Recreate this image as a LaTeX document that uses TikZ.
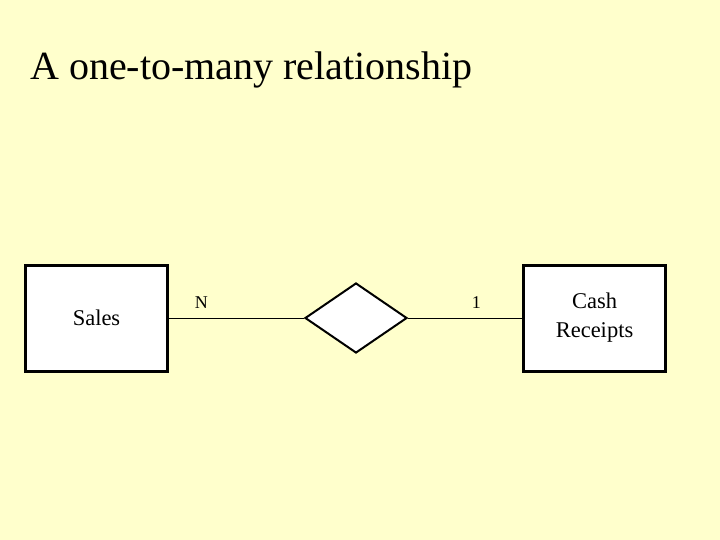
\documentclass[tikz,border=0pt]{standalone}
\usepackage{fontspec}
\setmainfont{Liberation Serif}
\usetikzlibrary{positioning,shapes.geometric}
\definecolor{slidebg}{RGB}{255,255,204}

\begin{document}
\begin{tikzpicture}[
        x=1pt,y=-1pt,
        entity/.style={
          draw,fill=white,line width=3pt,
          text centered,
          align=center,
          minimum width=142pt,
          minimum height=106pt,
          font=\fontsize{22.5}{29}\selectfont
        },
        relship/.style={
          draw,fill=white,line width=2pt,
          diamond,inner sep=0pt,
          minimum width=102pt,
          minimum height=70pt
        },
        card/.style={font=\fontsize{18}{21}\selectfont},
      ]
      \fill[slidebg] (0,0) rectangle (720,540);
      \useasboundingbox (0,0) rectangle (720,540);

      \node[anchor=base west,inner sep=0pt,font=\fontsize{40}{48}\selectfont] (title) at (30,80) {
        A one-to-many relationship
      };
      \node[entity] (sales) at (96.5,318) {Sales};
      \node[relship] (rel) at (356,318) {};
      \node[entity] (cash) at (594.5,318) {Cash\\Receipts};

      \draw[line width=1pt]
        (sales.east) -- node[card,above=6pt,pos=0.24] {N} (rel.west)
        (rel.east) -- node[card,above=6pt,pos=0.6] {1} (cash.west);
    \end{tikzpicture}
\end{document}
